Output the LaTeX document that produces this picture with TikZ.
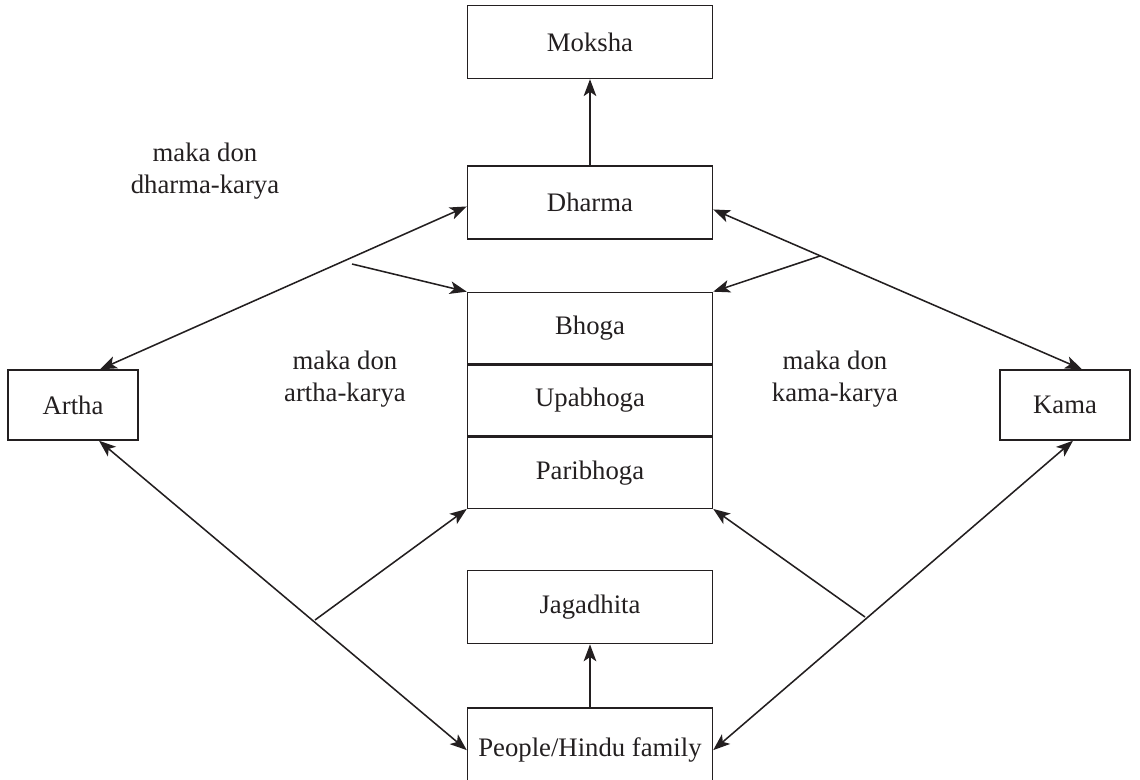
\documentclass[tikz,border=0pt]{standalone}
\usepackage{fontspec}
\setmainfont{Liberation Serif}
\usepackage{tikz}
\usetikzlibrary{positioning,arrows.meta,calc}

\definecolor{ink}{RGB}{35,31,32}

\tikzset{
  box/.style={draw=ink, line width=1pt, text=ink, minimum width=6.125cm, minimum height=1.825cm, inner sep=0pt},
  sidebox/.style={box, minimum width=3.25cm, minimum height=1.75cm},
  stackbox/.style={box, minimum height=1.775cm},
  note/.style={text=ink, align=center},
  arr/.style={draw=ink, fill=ink, line width=1.1pt, ->},
  dbl/.style={draw=ink, fill=ink, line width=1.1pt, <->}
}

\begin{document}
\begin{tikzpicture}[x=0.025cm, y=-0.025cm, font=\fontsize{19}{23}\selectfont,
  >={Stealth[length=12pt,width=9pt,inset=3pt]}]

    \clip (0,0) rectangle (1140,779);

    \node[box] (M) at (590,42) {Moksha};
    \node[box] (D) [below=2.15cm of M] {Dharma};
    \node[stackbox] (B) [below=1.3cm of D] {Bhoga};
    \node[stackbox] (U) [below=0pt of B] {Upabhoga};
    \node[stackbox] (P) [below=0pt of U] {Paribhoga};
    \node[box] (J) [below=1.525cm of P] {Jagadhita};
    \node[box, minimum height=2.1cm] (H) [below=1.575cm of J] {People/Hindu family};

    \node[sidebox] (A) at (73,405) {Artha};
    \node[sidebox] (K) at (1065,405) {Kama};

    \node[note] (ld) at (205,171) {maka don\\dharma-karya};
    \node[note] (la) at (345,379) {maka don\\artha-karya};
    \node[note] (lk) at (835,379) {maka don\\kama-karya};

%    free ends of the short arrows
    \coordinate (c1) at (352,264);
    \coordinate (c2) at (820,256);
    \coordinate (c3) at (315,620);
    \coordinate (c4) at (865,617);

    \draw[arr] (D) -- (M);
    \draw[arr] (H) -- (J);

    \draw[dbl] ([xshift=0.675cm]A.north) -- ([yshift=-0.1cm]D.west);
    \draw[dbl] ([xshift=0.425cm]K.north) -- ([yshift=-0.175cm]D.east);
    \draw[dbl] ([xshift=0.65cm]A.south) -- (H.west);
    \draw[dbl] ([xshift=0.2cm]K.south) -- (H.east);

    \draw[arr] (c1) -- (B.north west);
    \draw[arr] (c2) -- (B.north east);
    \draw[arr] (c3) -- (P.south west);
    \draw[arr] (c4) -- (P.south east);

\end{tikzpicture}
\end{document}
